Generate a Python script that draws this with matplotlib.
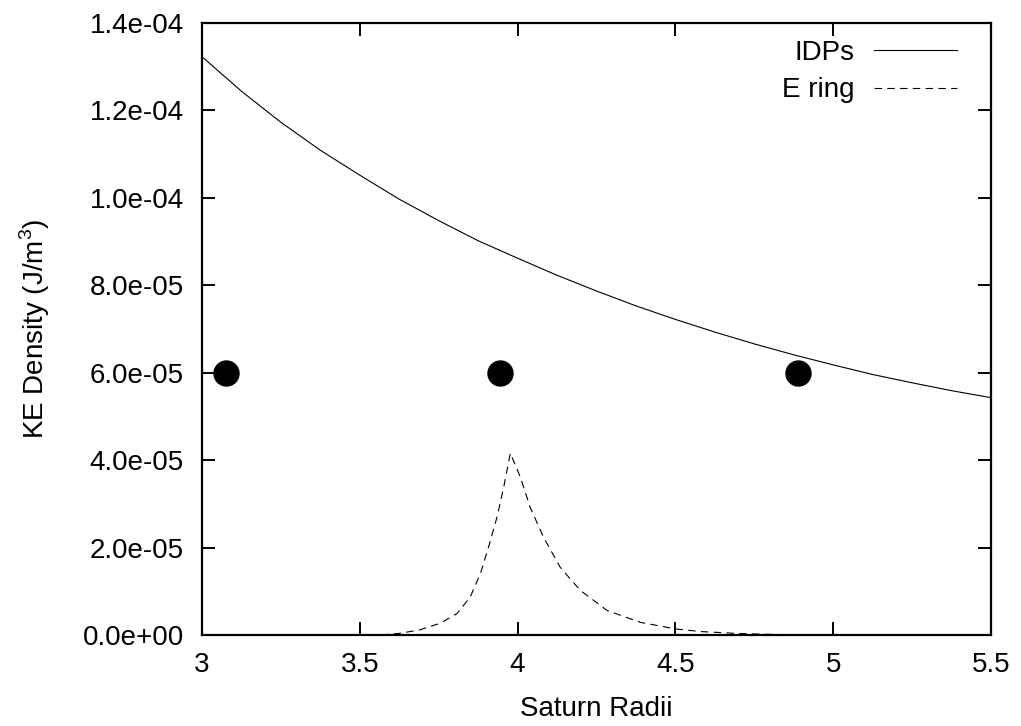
import numpy as np
import matplotlib
matplotlib.use("Agg")
from matplotlib import pyplot as plt
from matplotlib.ticker import FuncFormatter

plt.rcParams['font.family'] = ['Liberation Sans', 'DejaVu Sans']
plt.rcParams['mathtext.fontset'] = 'custom'
plt.rcParams['mathtext.rm'] = 'Liberation Sans'

# IDPs KE density (J/m^3)
idp_r = [3.0, 3.125, 3.25, 3.375, 3.5, 3.625, 3.75, 3.875, 4.0, 4.125, 4.25,
         4.375, 4.5, 4.625, 4.75, 4.875, 5.0, 5.125, 5.25, 5.375, 5.5]
idp_ke = [13.23, 12.44, 11.73, 11.09, 10.52, 9.97, 9.48, 9.02, 8.62, 8.23, 7.87,
          7.53, 7.22, 6.93, 6.66, 6.41, 6.18, 5.96, 5.77, 5.59, 5.43]
idp_ke = [v * 1e-5 for v in idp_ke]

# E ring KE density
ering_r = [3.0, 3.53, 3.58, 3.628, 3.691, 3.755, 3.808, 3.850, 3.882, 3.908, 3.935,
           3.956, 3.977, 4.009, 4.040, 4.082, 4.135, 4.199, 4.284, 4.389, 4.500,
           4.579, 4.7, 4.8, 4.9, 5.0, 5.5]
ering_ke = [0.0, 0.0, 0.01, 0.04, 0.12, 0.27, 0.49, 0.87, 1.40, 2.01, 2.70,
            3.38, 4.16, 3.61, 2.92, 2.24, 1.55, 1.02, 0.56, 0.29, 0.14,
            0.08, 0.035, 0.015, 0.005, 0.0, 0.0]
ering_ke = [v * 1e-5 for v in ering_ke]

# measurement points
pt_r = [3.076, 3.945, 4.889]
pt_ke = [6.0e-5, 6.0e-5, 6.0e-5]

xticks = [3, 3.5, 4, 4.5, 5, 5.5]
yticks = [0, 2e-5, 4e-5, 6e-5, 8e-5, 1.0e-4, 1.2e-4, 1.4e-4]

fig = plt.figure(figsize=(10.21, 7.26), dpi=100)
ax = fig.add_axes([0.1978, 0.1253, 0.7728, 0.843])

ax.plot(idp_r, idp_ke, color="black", lw=0.8, label="IDPs")
ax.plot(ering_r, ering_ke, color="black", lw=0.8, ls=(0, (6.7, 4.8)), label="E ring")
ax.plot(pt_r, pt_ke, "o", color="black", ms=18, clip_on=False)

ax.set_xlim(3, 5.5)
ax.set_ylim(0, 1.4e-4)
ax.set_xticks(xticks)
ax.set_yticks(yticks)
ax.xaxis.set_major_formatter(FuncFormatter(lambda v, p: "%g" % v))
ax.yaxis.set_major_formatter(FuncFormatter(lambda v, p: "%.1e" % v))
ax.tick_params(direction="in", length=9.5, width=1.4, top=True, right=True, labelsize=20)
ax.tick_params(axis="x", pad=12)
ax.tick_params(axis="y", pad=13)
for s in ax.spines.values():
    s.set_linewidth(1.6)

ax.set_xlabel("Saturn Radii", fontsize=20, labelpad=13)
ax.set_ylabel("KE Density (J/m$^3$)", fontsize=20, labelpad=22)

ax.legend(loc="upper right", bbox_to_anchor=(1.0, 1.028), frameon=False,
          markerfirst=False, fontsize=20, handlelength=3.0, handletextpad=0.68,
          labelspacing=0.42, borderaxespad=0.82, borderpad=0.4)

fig.savefig("out.png", dpi=100)
